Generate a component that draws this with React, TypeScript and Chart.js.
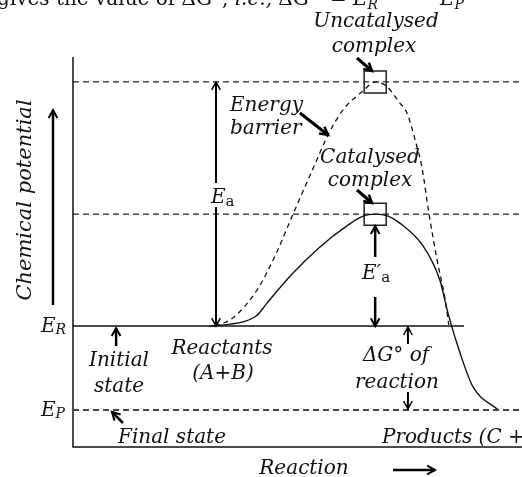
import React, { useEffect, useRef } from 'react';
import { Chart, registerables } from 'chart.js';

Chart.register(...registerables);

// ---- data (reaction coordinate 0..100, chemical potential 0..100) ----
const levelEP = 9.5;
const levelER = 31;
const levelCatalysed = 59.7;
const levelUncatalysed = 93.6;
const erLineEnd = 87.1;
const peakX = 67.3;

const catalysedX = [30.5, 35.0, 37.9, 41.0, 43.2, 49.0, 55.0, 61.0, 64.6, 67.3, 70.2, 72.8, 78.0, 81.7, 83.5, 86.2, 89.1, 94.7];
const catalysedY = [31.0, 31.5, 32.1, 33.8, 36.9, 44.6, 51.3, 56.7, 59.2, 59.7, 59.2, 57.4, 51.5, 42.8, 34.4, 24.1, 15.4, 9.5];

const uncatalysedX = [31.6, 35.6, 41.0, 45.4, 49.0, 54.3, 56.8, 60.1, 64.6, 67.3, 69.7, 72.8, 74.4, 76.2, 77.7, 79.3, 81.1, 82.9, 83.7];
const uncatalysedY = [31.0, 33.1, 40.3, 50.0, 59.7, 73.6, 80.0, 86.4, 91.3, 93.6, 92.6, 88.2, 85.6, 78.7, 71.8, 59.7, 47.9, 37.7, 31.3];

const eaX = 31.85;
const dgX = 74.6;
const initialX = 9.6;

const toPts = (xs: number[], ys: number[]) => xs.map((x, i) => ({ x, y: ys[i] }));

const FONT_I = "italic 20px 'DejaVu Serif'";
const FONT_R = "20px 'DejaVu Serif'";
const FONT_SUB_I = "italic 14px 'DejaVu Serif'";
const FONT_SUB_R = "15px 'DejaVu Serif'";

function arrow(ctx: CanvasRenderingContext2D, x1: number, y1: number, x2: number, y2: number, w: number, head = 9) {
  ctx.save();
  ctx.strokeStyle = '#000';
  ctx.lineWidth = w;
  ctx.lineCap = 'butt';
  ctx.beginPath();
  ctx.moveTo(x1, y1);
  ctx.lineTo(x2, y2);
  ctx.stroke();
  const a = Math.atan2(y2 - y1, x2 - x1);
  const sp = 0.5;
  ctx.lineWidth = Math.max(1.5, w - 0.5);
  ctx.beginPath();
  ctx.moveTo(x2 - head * Math.cos(a - sp), y2 - head * Math.sin(a - sp));
  ctx.lineTo(x2, y2);
  ctx.lineTo(x2 - head * Math.cos(a + sp), y2 - head * Math.sin(a + sp));
  ctx.stroke();
  ctx.restore();
}

function text(ctx: CanvasRenderingContext2D, s: string, x: number, y: number, font = FONT_I, align: CanvasTextAlign = 'center') {
  ctx.font = font;
  ctx.textAlign = align;
  ctx.textBaseline = 'alphabetic';
  ctx.fillStyle = '#111';
  ctx.fillText(s, x, y);
  return ctx.measureText(s).width;
}

const annotations = {
  id: 'annotations',
  afterDraw(chart: any) {
    const ctx: CanvasRenderingContext2D = chart.ctx;
    const xs = chart.scales.x;
    const ys = chart.scales.y;
    const px = (v: number) => xs.getPixelForValue(v);
    const py = (v: number) => ys.getPixelForValue(v);
    ctx.save();

    // top clipped sentence
    const tb = 5;
    let cx = -3;
    cx += text(ctx, 'gives the value of ΔG°, ', cx, tb, FONT_R, 'left');
    cx += text(ctx, 'i.e.,', cx, tb, FONT_I, 'left');
    text(ctx, ' ΔG°', cx, tb, FONT_R, 'left');
    text(ctx, '=', 330, tb, FONT_R, 'left');
    let w0 = text(ctx, 'E', 353, tb, FONT_I, 'left');
    text(ctx, 'R', 353 + w0, tb + 4, FONT_SUB_I, 'left');
    text(ctx, '−', 410, tb - 1, FONT_R, 'left');
    w0 = text(ctx, 'E', 440, tb, FONT_I, 'left');
    text(ctx, 'P', 440 + w0, tb + 4, FONT_SUB_I, 'left');

    // labels
    text(ctx, 'Uncatalysed', 376, 27);
    text(ctx, 'complex', 374, 52);
    text(ctx, 'Energy', 230, 111, FONT_I, 'left');
    text(ctx, 'barrier', 230, 134, FONT_I, 'left');
    text(ctx, 'Catalysed', 370, 163);
    text(ctx, 'complex', 370, 186);
    text(ctx, 'Reactants', 222, 354);
    text(ctx, '(A+B)', 223, 379);
    text(ctx, 'Initial', 119, 366);
    text(ctx, 'state', 119, 392);
    text(ctx, 'ΔG° of', 396, 361);
    text(ctx, 'reaction', 397, 388);
    text(ctx, 'Final state', 172, 443);
    text(ctx, 'Products (C + D)', 382, 443, FONT_I, 'left');
    text(ctx, 'Reaction', 304, 474);

    // E_a
    let w = text(ctx, 'E', 211, 203, FONT_I, 'left');
    text(ctx, 'a', 211 + w, 206, FONT_SUB_R, 'left');
    // E'a
    w = text(ctx, 'E′', 362, 279, FONT_I, 'left');
    text(ctx, 'a', 362 + w, 282, FONT_SUB_R, 'left');
    // E_R, E_P
    w = text(ctx, 'E', 41, py(levelER) + 6, FONT_I, 'left');
    text(ctx, 'R', 41 + w, py(levelER) + 8, FONT_SUB_I, 'left');
    w = text(ctx, 'E', 41, py(levelEP) + 6, FONT_I, 'left');
    text(ctx, 'P', 41 + w, py(levelEP) + 8, FONT_SUB_I, 'left');

    // vertical axis title
    ctx.save();
    ctx.translate(31, 200);
    ctx.rotate(-Math.PI / 2);
    text(ctx, 'Chemical potential', 0, 0, "italic 21px 'DejaVu Serif'");
    ctx.restore();

    // arrows
    arrow(ctx, 53, 305, 53, 110, 2.5);
    const eaPx = px(eaX);
    arrow(ctx, eaPx, 183, eaPx, py(levelUncatalysed), 2);
    arrow(ctx, eaPx, 207, eaPx, py(levelER), 2);
    const pk = px(peakX);
    arrow(ctx, pk, 257, pk, py(levelCatalysed) + 12, 2.5);
    arrow(ctx, pk, 297, pk, py(levelER), 2.5);
    const dg = px(dgX);
    arrow(ctx, dg, 344, dg, py(levelER) + 1, 2);
    arrow(ctx, dg, 392, dg, py(levelEP) - 1, 2);
    const ini = px(initialX);
    arrow(ctx, ini, 346, ini, py(levelER) + 2, 2.5);
    arrow(ctx, 123, 423, 112, 412, 2.5);
    arrow(ctx, 300, 113, 328, 135, 3);
    arrow(ctx, 357, 58, 372, 71, 3);
    arrow(ctx, 357, 190, 372, 203, 3);
    arrow(ctx, 393, 470, 435, 470, 2.5);

    ctx.restore();
  },
};

export default function App() {
  const ref = useRef<HTMLCanvasElement | null>(null);
  useEffect(() => {
    if (!ref.current) return;
    const dashedLevel = (y: number, end = 100, color = '#222', width = 1.3, dash = [6, 4]) => ({
      data: [{ x: 0, y }, { x: end, y }],
      borderColor: color,
      borderWidth: width,
      borderDash: dash,
      pointRadius: 0,
      showLine: true,
      clip: false as any,
    });
    const chart = new Chart(ref.current, {
      type: 'scatter',
      data: {
        datasets: [
          dashedLevel(levelUncatalysed),
          dashedLevel(levelCatalysed),
          dashedLevel(levelEP, 100, '#444', 2, [6, 4]),
          {
            data: [{ x: 0, y: levelER }, { x: erLineEnd, y: levelER }],
            borderColor: '#111', borderWidth: 1.5, pointRadius: 0, showLine: true, clip: false as any,
          },
          {
            data: toPts(uncatalysedX, uncatalysedY),
            borderColor: '#111', borderWidth: 1.3, borderDash: [5, 4], pointRadius: 0, showLine: true,
            cubicInterpolationMode: 'monotone', clip: false as any,
          },
          {
            data: toPts(catalysedX, catalysedY),
            borderColor: '#111', borderWidth: 1.4, pointRadius: 0, showLine: true,
            cubicInterpolationMode: 'monotone', clip: false as any,
          },
          {
            data: [{ x: peakX, y: levelUncatalysed }, { x: peakX, y: levelCatalysed }],
            pointStyle: 'rect', pointRadius: 15.6, borderColor: '#222', borderWidth: 1.5,
            backgroundColor: 'rgba(0,0,0,0)', showLine: false, clip: false as any,
          },
          {
            data: [{ x: 0, y: 100 }, { x: 0, y: 0 }, { x: 100, y: 0 }],
            borderColor: '#111', borderWidth: 1.5, pointRadius: 0, showLine: true, clip: false as any,
          },
        ] as any,
      },
      options: {
        animation: false,
        responsive: false,
        devicePixelRatio: 1,
        layout: { autoPadding: false, padding: { left: 73, right: 0, top: 57, bottom: 30 } },
        plugins: { legend: { display: false }, tooltip: { enabled: false } },
        events: [],
        scales: {
          x: { type: 'linear', display: false, min: 0, max: 100 },
          y: { type: 'linear', display: false, min: 0, max: 100 },
        },
      },
      plugins: [annotations],
    });
    return () => chart.destroy();
  }, []);
  return (
    <div style={{ position: 'absolute', left: 0, top: 0, width: 522, height: 477, background: '#fff' }}>
      <canvas ref={ref} width={522} height={477} />
    </div>
  );
}
